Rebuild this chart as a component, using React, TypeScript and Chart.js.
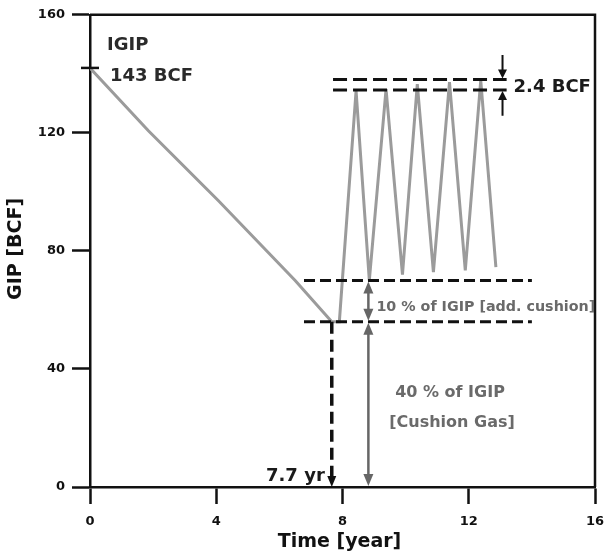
import React, { useEffect, useRef } from "react";
import { Chart, registerables } from "chart.js";

Chart.register(...registerables);

// ---- data ----
const timeYears = [0, 1.85, 4.07, 6.5, 7.66, 7.9, 8.43, 8.85, 9.38, 9.9, 10.37, 10.88, 11.39, 11.89, 12.38, 12.86];
const gipBcf = [142, 120.7, 97, 70, 56, 56, 134.2, 70, 134.8, 72, 136.5, 72.8, 137.2, 73.4, 137.8, 74.5];

const xTickValues = [0, 4, 8, 12, 16];
const yTickValues = [0, 40, 80, 120, 160];

// annotation values
const igipLevel = 142;
const cushionLevel = 56;
const addCushionLevel = 70;
const peakBand = [134.5, 138.1];
const peakBandX = [7.7, 13.2];
const cushionBandX = [6.78, 14.0];
const bandArrowX = 13.07;
const bandArrowEnds = [146.4, 125.8];
const grayArrowX = 8.82;
const switchYear = 7.66;

const labels = {
  igip: "IGIP",
  igipValue: "143 BCF",
  band: "2.4 BCF",
  addCushion: "10 % of IGIP [add. cushion]",
  cushion1: "40 % of IGIP",
  cushion2: "[Cushion Gas]",
  year: "7.7 yr",
  xTitle: "Time [year]",
  yTitle: "GIP [BCF]",
};

const FONT = "'DejaVu Sans', sans-serif";

function head(ctx: CanvasRenderingContext2D, x: number, y: number, dir: number, w: number, h: number) {
  ctx.beginPath();
  ctx.moveTo(x, y);
  ctx.lineTo(x - w / 2, y - dir * h);
  ctx.lineTo(x + w / 2, y - dir * h);
  ctx.closePath();
  ctx.fill();
}

const fixAreaPlugin = {
  id: "fixArea",
  afterLayout(chart: any) {
    const a = chart.chartArea;
    a.right = 595;
    a.width = a.right - a.left;
    const xs = chart.scales.x;
    xs.right = 595;
    xs.width = xs.right - xs.left;
    xs.configure();
  },
};

const annotationPlugin = {
  id: "annotations",
  afterDatasetsDraw(chart: any) {
    const ctx: CanvasRenderingContext2D = chart.ctx;
    const xs = chart.scales.x;
    const ys = chart.scales.y;
    const X = (v: number) => xs.getPixelForValue(v);
    const Y = (v: number) => ys.getPixelForValue(v);
    const area = chart.chartArea;
    ctx.save();

    ctx.strokeStyle = "#111";
    ctx.lineWidth = 2.5;
    ctx.beginPath();
    ctx.moveTo(area.left, area.top);
    ctx.lineTo(area.right, area.top);
    ctx.lineTo(area.right, area.bottom);
    ctx.stroke();

    ctx.beginPath();
    ctx.moveTo(area.left - 9, Y(igipLevel));
    ctx.lineTo(area.left + 9, Y(igipLevel));
    ctx.stroke();

    ctx.strokeStyle = "#111";
    ctx.lineWidth = 3;
    ctx.setLineDash([14, 6]);
    for (const v of peakBand) {
      ctx.beginPath();
      ctx.moveTo(X(peakBandX[0]), Y(v));
      ctx.lineTo(X(peakBandX[1]), Y(v));
      ctx.stroke();
    }
    ctx.setLineDash([11, 5]);
    for (const v of [addCushionLevel, cushionLevel]) {
      ctx.beginPath();
      ctx.moveTo(X(cushionBandX[0]), Y(v));
      ctx.lineTo(X(cushionBandX[1]), Y(v));
      ctx.stroke();
    }
    ctx.lineWidth = 3.5;
    ctx.setLineDash([12, 6]);
    ctx.beginPath();
    ctx.moveTo(X(switchYear), Y(cushionLevel));
    ctx.lineTo(X(switchYear), Y(0) - 9);
    ctx.stroke();
    ctx.setLineDash([]);
    ctx.fillStyle = "#111";
    head(ctx, X(switchYear), Y(0), 1, 9, 11);

    ctx.lineWidth = 2;
    const ax = X(bandArrowX);
    ctx.beginPath();
    ctx.moveTo(ax, Y(bandArrowEnds[0]));
    ctx.lineTo(ax, Y(peakBand[1]) - 6);
    ctx.moveTo(ax, Y(bandArrowEnds[1]));
    ctx.lineTo(ax, Y(peakBand[0]) + 6);
    ctx.stroke();
    head(ctx, ax, Y(peakBand[1]) - 1, 1, 9, 9);
    head(ctx, ax, Y(peakBand[0]) + 1, -1, 9, 9);

    ctx.strokeStyle = "#666";
    ctx.fillStyle = "#666";
    ctx.lineWidth = 2.5;
    const gx = X(grayArrowX);
    const segs = [
      [addCushionLevel, cushionLevel],
      [cushionLevel, 0],
    ];
    for (const [a, b] of segs) {
      ctx.beginPath();
      ctx.moveTo(gx, Y(a) + 8);
      ctx.lineTo(gx, Y(b) - 8);
      ctx.stroke();
      head(ctx, gx, Y(a) + 1, -1, 10, 12);
      head(ctx, gx, Y(b) - 1, 1, 10, 12);
    }

    ctx.textBaseline = "alphabetic";
    ctx.textAlign = "left";
    ctx.fillStyle = "#2a2a2a";
    ctx.font = `bold 18px ${FONT}`;
    ctx.fillText(labels.igip, 107, 50);
    ctx.fillText(labels.igipValue, 110, 81);
    ctx.fillStyle = "#1a1a1a";
    ctx.fillText(labels.band, ax + 11, 91.5);
    ctx.textAlign = "right";
    ctx.fillText(labels.year, X(switchYear) - 7, 480.5);

    ctx.fillStyle = "#6a6a6a";
    ctx.textAlign = "left";
    ctx.font = `bold 14.3px ${FONT}`;
    ctx.fillText(labels.addCushion, gx + 8, 311);
    ctx.textAlign = "center";
    ctx.font = `bold 16px ${FONT}`;
    ctx.fillText(labels.cushion1, 450, 397);
    ctx.fillText(labels.cushion2, 452, 427);

    ctx.fillStyle = "#111";
    ctx.font = `bold 19px ${FONT}`;
    ctx.textAlign = "center";
    ctx.fillText(labels.xTitle, (area.left + area.right) / 2 - 3, 546.5);
    ctx.save();
    ctx.translate(21, (area.top + area.bottom) / 2 - 2);
    ctx.rotate(-Math.PI / 2);
    ctx.fillText(labels.yTitle, 0, 0);
    ctx.restore();

    ctx.restore();
  },
};

export default function App() {
  const ref = useRef<HTMLCanvasElement>(null);
  useEffect(() => {
    if (!ref.current) return;
    const chart = new Chart(ref.current, {
      type: "line",
      data: {
        datasets: [
          {
            data: timeYears.map((t, i) => ({ x: t, y: gipBcf[i] })),
            borderColor: "#9b9b9b",
            borderWidth: 3,
            pointRadius: 0,
            tension: 0,
            fill: false,
          },
        ],
      },
      options: {
        responsive: false,
        animation: false,
        events: [],
        layout: { padding: { top: 13, right: 10, left: 0, bottom: 0 } },
        plugins: { legend: { display: false }, tooltip: { enabled: false }, title: { display: false } },
        scales: {
          x: {
            type: "linear",
            min: 0,
            max: 16,
            afterBuildTicks: (s: any) => {
              s.ticks = xTickValues.map((v) => ({ value: v }));
            },
            afterFit: (s: any) => {
              s.height = 69;
            },
            ticks: {
              font: { family: FONT, weight: "bold", size: 13 },
              color: "#111",
              padding: 10,
              maxRotation: 0,
            },
            grid: { drawOnChartArea: false, drawTicks: true, tickLength: 17, tickWidth: 2.5, tickColor: "#111" },
            border: { display: true, color: "#111", width: 2.5 },
            title: { display: false },
          },
          y: {
            type: "linear",
            min: 0,
            max: 160,
            afterBuildTicks: (s: any) => {
              s.ticks = yTickValues.map((v) => ({ value: v }));
            },
            afterFit: (s: any) => {
              s.width = 90;
            },
            ticks: {
              font: { family: FONT, weight: "bold", size: 13 },
              color: "#111",
              padding: 7,
            },
            grid: { drawOnChartArea: false, drawTicks: true, tickLength: 18, tickWidth: 2.5, tickColor: "#111" },
            border: { display: true, color: "#111", width: 2.5 },
            title: { display: false },
          },
        },
      },
      plugins: [fixAreaPlugin, annotationPlugin],
    } as any);
    return () => chart.destroy();
  }, []);
  return (
    <div style={{ position: "fixed", left: 0, top: 0, width: 605, height: 556, background: "#fff" }}>
      <canvas ref={ref} width={605} height={556} style={{ display: "block" }} />
    </div>
  );
}
